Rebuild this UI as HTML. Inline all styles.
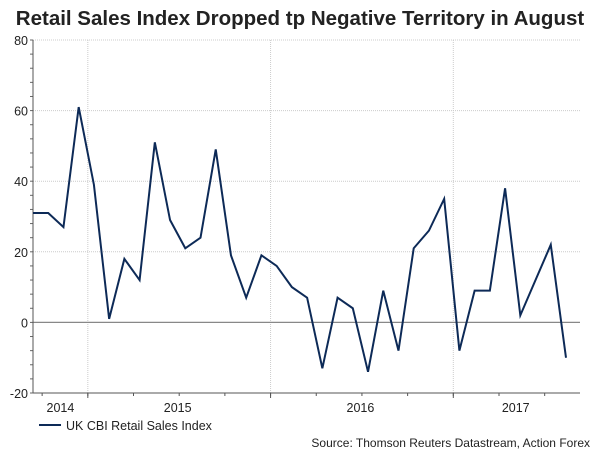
<!DOCTYPE html>
<html><head><meta charset="utf-8"><style>
body{margin:0;background:#fff;width:600px;height:451px;overflow:hidden;font-family:"Liberation Sans",Arial,sans-serif}
</style></head><body>
<svg id="c" width="600" height="451" xmlns="http://www.w3.org/2000/svg">
<text x="300" y="25" text-anchor="middle" font-size="20.5" font-weight="bold" fill="#222">Retail Sales Index Dropped tp Negative Territory in August</text>
<g id="grid"></g><g id="axes"></g><g id="series"></g>
<g>
<line x1="39" y1="425" x2="61" y2="425" stroke="#0d2a57" stroke-width="2"/>
<text x="66" y="430" font-size="12.5" fill="#222">UK CBI Retail Sales Index</text>
</g>
<text x="590" y="447" text-anchor="end" font-size="12" fill="#222">Source: Thomson Reuters Datastream, Action Forex</text>
</svg>
<script>
const values=[31,31,27,61,39,1,18,12,51,29,21,24,49,19,7,19,16,10,7,-13,7,4,-14,9,-8,21,26,35,-8,9,9,38,2,12,22,-10];
const yTicks=[80,60,40,20,0,-20];
const yearLabels=["2014","2015","2016","2017"];
const yearLabelIdx=[1.8,9.5,21.5,31.7];
const yearBoundIdx=[3.6,15.6,27.6];
const NS="http://www.w3.org/2000/svg";
const L=33,R=580,T=40,B=393,ymin=-20,ymax=80;
const xs=i=>L+i*(566-L)/(values.length-1);
const ys=v=>B-(v-ymin)/(ymax-ymin)*(B-T);
function mk(t,a,p){const e=document.createElementNS(NS,t);for(const k in a)e.setAttribute(k,a[k]);p.appendChild(e);return e;}
const g=document.getElementById('grid'),ax=document.getElementById('axes'),s=document.getElementById('series');
yTicks.forEach(v=>{
 if(v!==ymin&&v!==0){const l=mk('line',{x1:L,x2:R,y1:ys(v),y2:ys(v),stroke:'#ccc','stroke-dasharray':'1,1'},g);
 
 }
 const t=mk('text',{x:L-5,y:ys(v)+5,'text-anchor':'end','font-size':'12.5',fill:'#222'},ax);t.textContent=v;
 
 
});
for(let v=ymin;v<=ymax;v+=4){mk('line',{x1:L-3,x2:L,y1:ys(v),y2:ys(v),stroke:'#666'},ax);}
yearBoundIdx.forEach(i=>{const l=mk('line',{x1:xs(i),x2:xs(i),y1:T,y2:B,stroke:'#ccc','stroke-dasharray':'1,1'},g);
 
 
 mk('line',{x1:xs(i),x2:xs(i),y1:B,y2:B+5,stroke:'#555'},ax);});
for(let i=0.6;i<values.length;i+=3){mk('line',{x1:xs(i),x2:xs(i),y1:B,y2:B+3,stroke:'#555'},ax);}
yearLabels.forEach((y,k)=>{const t=mk('text',{x:xs(yearLabelIdx[k]),y:B+19,'text-anchor':'middle','font-size':'12.5',fill:'#222'},ax);t.textContent=y;
 
 });
const z=mk('line',{x1:L,x2:R,y1:ys(0),y2:ys(0),stroke:'#888','stroke-width':1.2},g);


const ya=mk('line',{x1:L,x2:L,y1:T,y2:B,stroke:'#555'},ax);


const xa=mk('line',{x1:L,x2:R,y1:B,y2:B,stroke:'#555'},ax);


const p=mk('polyline',{points:values.map((v,i)=>xs(i)+','+ys(v)).join(' '),fill:'none',stroke:'#0d2a57','stroke-width':2,'stroke-linejoin':'miter'},s);


</script>
</body></html>
